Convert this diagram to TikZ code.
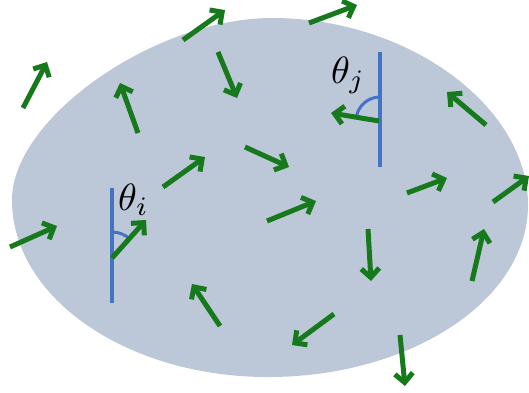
\documentclass[tikz,border=0pt]{standalone}
\usepackage{graphicx}
\usetikzlibrary{arrows.meta}
\definecolor{diskfill}{RGB}{188,199,215}
\definecolor{arrgreen}{RGB}{22,122,28}
\definecolor{refblue}{RGB}{68,114,196}
\newcommand{\biglabel}[1]{\scalebox{3.8}{$#1$}}
\tikzset{
  vec/.style={draw=arrgreen, line width=5pt, -{Straight Barb[length=9pt,width=18pt]}},
  refline/.style={draw=refblue, line width=4pt},
  anglearc/.style={draw=refblue, line width=3pt},
  anglelabel/.style={anchor=base west, inner sep=0pt}
}
\begin{document}
\begin{tikzpicture}[x=1pt,y=-1pt]
\useasboundingbox (0,0) rectangle (529,392);
% disk (egg-like oval)
\fill[diskfill] (12,200)
  .. controls (12,118) and (155,18) .. (272,18)
  .. controls (408,18) and (528,106) .. (528,205)
  .. controls (528,300) and (411,377) .. (268,377)
  .. controls (127,377) and (12,298) .. (12,200) -- cycle;
% reference lines and angle arcs
\draw[refline] (112,188) -- (112,303);
\draw[refline] (380,52) -- (380,167);
\draw[anglearc] (112,232) arc[start angle=-90, end angle=-48, radius=26];
\draw[anglearc] (380,97) arc[start angle=-90, end angle=-170, radius=24];
% vectors
\draw[vec] (23,108) -- (47,62);
\draw[vec] (138,133) -- (120,83);
\draw[vec] (183,40) -- (225,10);
\draw[vec] (218,52) -- (237,98);
\draw[vec] (163,187) -- (205,157);
\draw[vec] (245,147) -- (289,167);
\draw[vec] (309,23) -- (357,5);
\draw[vec] (379,121) -- (331,113);
\draw[vec] (486,125) -- (447,92);
\draw[vec] (407,193) -- (447,178);
\draw[vec] (493,202) -- (529,176);
\draw[vec] (10,247) -- (57,226);
\draw[vec] (112,258) -- (146,220);
\draw[vec] (220,326) -- (192,284);
\draw[vec] (267,221) -- (316,201);
\draw[vec] (368,229) -- (371,281);
\draw[vec] (472,281) -- (484,229);
\draw[vec] (334,314) -- (292,345);
\draw[vec] (400,335) -- (405,386);
% labels
\node[anglelabel] (ti) at (118,210) {\biglabel{\theta_i}};
\node[anglelabel] (tj) at (331,83) {\biglabel{\theta_j}};
\end{tikzpicture}
\end{document}
